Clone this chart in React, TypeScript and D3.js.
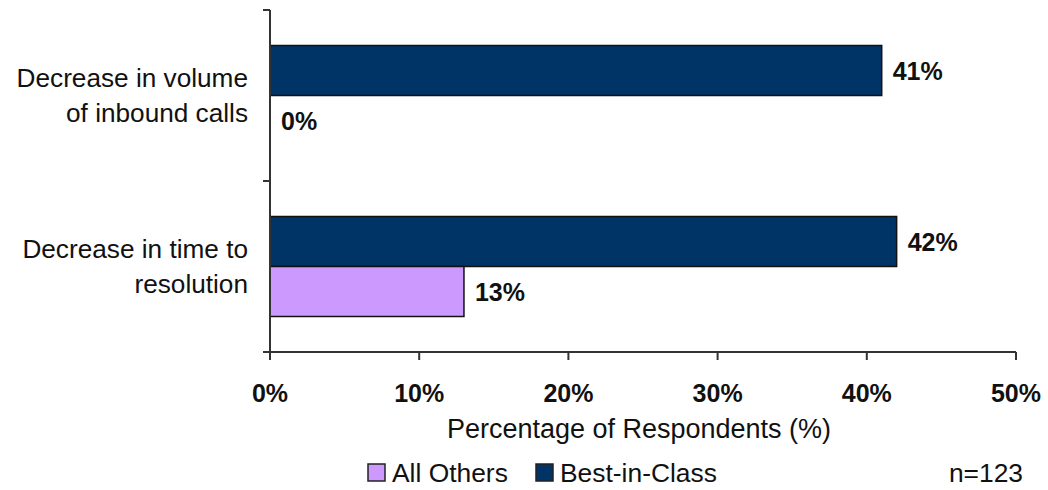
import React from "react";
import * as d3 from "d3";

const categories = ["Decrease in volume of inbound calls", "Decrease in time to resolution"];
const categoryLines = [["Decrease in volume", "of inbound calls"], ["Decrease in time to", "resolution"]];
const seriesNames = ["Best-in-Class", "All Others"];
const bestInClass = [41, 42];
const allOthers = [0, 13];
const xTicks = [0, 10, 20, 30, 40, 50];
const legendNames = ["All Others", "Best-in-Class"];
const sampleNote = "n=123";

const colors: Record<string, string> = { "Best-in-Class": "#003366", "All Others": "#CC99FF" };
const FONT = "'Liberation Sans', Arial, sans-serif";

export default function App() {
  const W = 1048, H = 490;
  const left = 270, right = 1016, top = 10, bottom = 352;
  const x = d3.scaleLinear().domain([0, 50]).range([left, right]);
  const y = d3.scaleBand<string>().domain(categories).range([top, bottom]).padding(0);
  const sub = d3.scaleBand<string>().domain(seriesNames).range([0, y.bandwidth()]).paddingInner(0).paddingOuter(0.71);
  const values: Record<string, number[]> = { "Best-in-Class": bestInClass, "All Others": allOthers };
  const yTickPos = [top, ...categories.map((c) => (y(c) as number) + y.bandwidth())];

  return (
    <svg width={W} height={H} style={{ position: "absolute", left: 0, top: 0, background: "#fff" }} fontFamily={FONT}>
      {/* bars */}
      {categories.map((c, i) =>
        seriesNames.map((s) => {
          const v = values[s][i];
          const by = (y(c) as number) + (sub(s) as number);
          const w = x(v) - x(0);
          return (
            <g key={c + s}>
              {w > 0 && (
                <rect x={x(0)} y={by} width={w} height={sub.bandwidth()} fill={colors[s]} stroke="#111" strokeWidth={1.5} />
              )}
              <text x={x(v) + 11} y={by + sub.bandwidth() / 2 + 9} fontSize={25} fontWeight="bold" fill="#111">
                {v}%
              </text>
            </g>
          );
        })
      )}
      {/* y axis */}
      <line x1={left} x2={left} y1={top} y2={bottom} stroke="#333" strokeWidth={2} />
      {yTickPos.map((t, i) => (
        <line key={i} x1={left - 7} x2={left} y1={t} y2={t} stroke="#333" strokeWidth={2} />
      ))}
      {/* x axis */}
      <line x1={left} x2={right} y1={bottom} y2={bottom} stroke="#333" strokeWidth={2} />
      {xTicks.map((t) => (
        <g key={t}>
          <line x1={x(t)} x2={x(t)} y1={bottom} y2={bottom + 8} stroke="#333" strokeWidth={2} />
          <text x={x(t)} y={402} textAnchor="middle" fontSize={25} fontWeight="bold" fill="#111">
            {t}%
          </text>
        </g>
      ))}
      <text x={639} y={438} textAnchor="middle" fontSize={27} fill="#111">
        Percentage of Respondents (%)
      </text>
      {/* category labels */}
      {categories.map((c, i) => {
        const cy = (y(c) as number) + y.bandwidth() / 2;
        return (
          <text key={c} x={248} y={cy - 9} textAnchor="end" fontSize={26.2} fill="#111">
            {categoryLines[i].map((l, j) => (
              <tspan key={j} x={248} dy={j === 0 ? 0 : 35}>
                {l}
              </tspan>
            ))}
          </text>
        );
      })}
      {/* legend */}
      {legendNames.map((n, i) => {
        const lx = i === 0 ? 368 : 536;
        return (
          <g key={n}>
            <rect x={lx} y={464} width={17} height={17} fill={colors[n]} stroke="#222" strokeWidth={1.5} />
            <text x={lx + 24} y={482} fontSize={26.4} fill="#111">
              {n}
            </text>
          </g>
        );
      })}
      <text x={1023} y={482} textAnchor="end" fontSize={26.4} fill="#111">
        {sampleNote}
      </text>
    </svg>
  );
}
